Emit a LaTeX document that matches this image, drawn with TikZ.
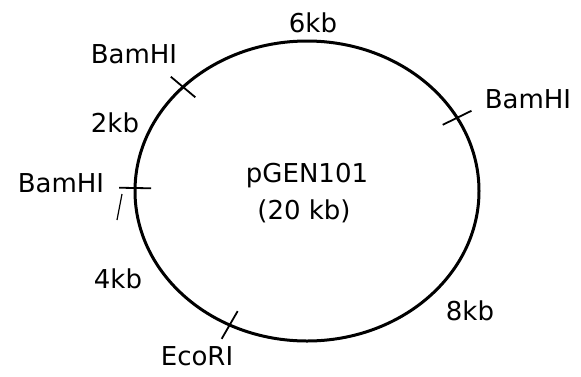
\documentclass[tikz,border=0pt]{standalone}
\usepackage{fontspec}
\usepackage{tikz}
\usetikzlibrary{shapes.geometric,calc}
\newfontfamily\mapfont{DejaVu Sans}

\begin{document}
\begin{tikzpicture}[x=1pt,y=-1pt]
  \tikzstyle{plasmid}=[ellipse,draw,line width=3pt,inner sep=0,outer sep=0,
    minimum width=344pt,minimum height=300pt]
  \tikzstyle{lbl}=[inner sep=0,font=\mapfont\fontsize{26}{28}\selectfont]
  \tikzstyle{site}=[line width=1.8pt]
  \useasboundingbox (0,0) rectangle (581,376);
  \node(ring)[plasmid] at (307,191) {};
  % restriction sites, drawn across the ring
  \foreach \a/\n in {140/bamA,179/bamB,26/bamC,240/eco}{
    \coordinate (\n) at (ring.\a);
    \draw[site] ($(\n)!16pt!(ring.center)$) -- ($(\n)!-16pt!(ring.center)$);
  }
  \node(name)[lbl] at (307,176) {pGEN101};
  \node(size)[lbl] at (304,211) {(20 kb)};
  \node(l6)[lbl] at (313,23) {6kb};
  \node(l2)[lbl] at (115,123) {2kb};
  \node(l4)[lbl] at (118,279) {4kb};
  \node(l8)[lbl] at (470,311) {8kb};
  \node(tbamA)[lbl] at (134,54) {BamHI};
  \node(tbamB)[lbl] at (61,183) {BamHI};
  \node(tbamC)[lbl] at (528,99) {BamHI};
  \node(teco)[lbl] at (197,356) {EcoRI};
  \coordinate (s1) at (122,194);
  \coordinate (s2) at (117,220);
  \draw[line width=1.2pt] (s1) -- (s2);
\end{tikzpicture}
\end{document}
